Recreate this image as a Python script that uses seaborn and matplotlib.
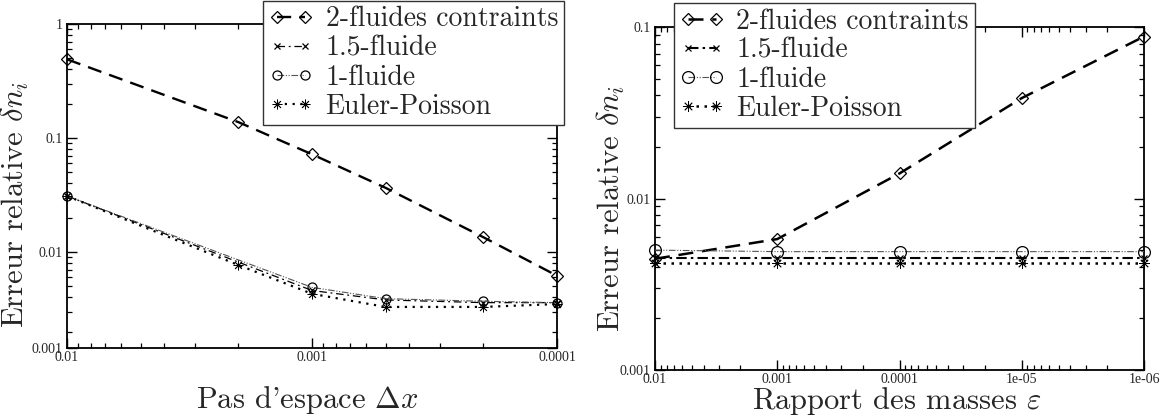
import matplotlib
matplotlib.use("Agg")
import matplotlib.pyplot as plt
import seaborn as sns
import pandas as pd
from matplotlib.ticker import FixedLocator, NullFormatter, LogLocator

# ---------------- data ----------------
labels = ["2-fluides contraints", "1.5-fluide", "1-fluide", "Euler-Poisson"]

# left panel : error vs space step
dx_2f = [0.01, 0.002, 0.001, 0.0005, 0.0002, 0.0001]
err_dx_2f = [0.49, 0.138, 0.072, 0.0365, 0.0135, 0.0062]
dx_15 = [0.01, 0.001, 0.0005, 0.0002, 0.0001]
err_dx_15 = [0.031, 0.0046, 0.0038, 0.0036, 0.0036]
dx_1 = [0.01, 0.001, 0.0005, 0.0002, 0.0001]
err_dx_1 = [0.031, 0.0049, 0.0039, 0.0037, 0.0036]
dx_ep = [0.01, 0.002, 0.001, 0.0005, 0.0002, 0.0001]
err_dx_ep = [0.031, 0.0077, 0.0043, 0.0033, 0.0033, 0.0035]

# right panel : error vs mass ratio
eps = [0.01, 0.001, 0.0001, 1e-05, 1e-06]
err_eps_2f = [0.00445, 0.0058, 0.014, 0.0385, 0.088]
err_eps_15 = [0.0045, 0.0045, 0.0045, 0.0045, 0.0045]
err_eps_1 = [0.0050, 0.0049, 0.0049, 0.0049, 0.0049]
err_eps_ep = [0.0042, 0.0042, 0.0042, 0.0042, 0.0042]

# ticks
left_xticks = [0.01, 0.001, 0.0001]
left_xticklabels = ["0.01", "0.001", "0.0001"]
left_yticks = [0.00144, 0.01, 0.1, 1]
left_yticklabels = ["0.001", "0.01", "0.1", "1"]
right_xticks = [0.01, 0.001, 0.0001, 1e-05, 1e-06]
right_xticklabels = ["0.01", "0.001", "0.0001", "1e-05", "1e-06"]
right_yticks = [0.001, 0.01, 0.1]
right_yticklabels = ["0.001", "0.01", "0.1"]

# ---------------- style ----------------
sns.set_style("ticks")
plt.rcParams["mathtext.fontset"] = "cm"
plt.rcParams["font.family"] = ["cmr10", "DejaVu Serif"]
plt.rcParams["axes.unicode_minus"] = False

LABEL_FS = 22
LEG_FS = 20
TICK_FS = 10
tickfont = dict(family=["Liberation Serif", "DejaVu Serif"], size=TICK_FS)

fig = plt.figure(figsize=(11.75, 4.2), dpi=100)
W, H = 1175, 420
axL = fig.add_axes([67 / W, 1 - 348 / H, 490 / W, 324 / H])
axR = fig.add_axes([655 / W, 1 - 370 / H, 489 / W, 343 / H])

star = (8, 2, 0)


def draw(ax, x, y, label, marker, ms, ls, lw, color="black", mew=0.9):
    df = pd.DataFrame({"x": x, "y": y})
    sns.lineplot(data=df, x="x", y="y", ax=ax, label=label, color=color,
                 linestyle=ls, linewidth=lw, marker=marker, markersize=ms,
                 markerfacecolor="none", markeredgecolor="black",
                 markeredgewidth=mew, estimator=None, sort=False,
                 clip_on=False, zorder=3)


for ax in (axL, axR):
    ax.set_xscale("log")
    ax.set_yscale("log")

# left panel
draw(axL, dx_2f, err_dx_2f, labels[0], "D", 6, (0, (6, 3.5)), 1.7)
draw(axL, dx_15, err_dx_15, labels[1], "x", 4.5, (0, (6, 3, 1.5, 3)), 0.9)
draw(axL, dx_1, err_dx_1, labels[2], "o", 6.5, (0, (6, 1.5, 1, 1.5, 1, 1.5)), 0.8, color="#555555")
draw(axL, dx_ep, err_dx_ep, labels[3], star, 7, (0, (1, 2.5)), 1.6, mew=0.6)

# right panel
draw(axR, eps, err_eps_2f, labels[0], "D", 6.5, (0, (6, 3.5)), 1.8)
draw(axR, eps, err_eps_15, labels[1], "x", 5, (0, (5, 2, 1.2, 2)), 1.5)
draw(axR, eps, err_eps_1, labels[2], "o", 8.5, (0, (6, 1.5, 1, 1.5, 1, 1.5)), 0.8, color="#555555")
draw(axR, eps, err_eps_ep, labels[3], star, 7.5, (0, (1, 2.2)), 1.8, mew=0.6)

axL.set_xlim(0.01, 0.0001)
axL.set_ylim(0.00144, 1)
axR.set_xlim(0.01, 1e-06)
axR.set_ylim(0.001, 0.1)

for ax, xt, xtl, yt, ytl in ((axL, left_xticks, left_xticklabels, left_yticks, left_yticklabels),
                             (axR, right_xticks, right_xticklabels, right_yticks, right_yticklabels)):
    ax.xaxis.set_major_locator(FixedLocator(xt))
    ax.set_xticklabels(xtl, fontdict=tickfont)
    ax.yaxis.set_major_locator(FixedLocator(yt))
    ax.set_yticklabels(ytl, fontdict=tickfont)
    ax.xaxis.set_minor_locator(LogLocator(base=10, subs=range(2, 10), numticks=20))
    ax.yaxis.set_minor_locator(LogLocator(base=10, subs=range(2, 10), numticks=20))
    ax.xaxis.set_minor_formatter(NullFormatter())
    ax.yaxis.set_minor_formatter(NullFormatter())
    ax.tick_params(which="both", direction="in", top=True, right=True, color="black")
    ax.tick_params(which="major", length=7, width=1.0)
    ax.tick_params(which="minor", length=3.5, width=0.9)
    ax.tick_params(axis="x", which="major", pad=2)
    ax.tick_params(axis="y", which="major", pad=3)
    for s in ax.spines.values():
        s.set_linewidth(1.3)
        s.set_color("black")
    ax.grid(False)

axL.set_xlabel(r"Pas d'espace $\Delta x$", fontsize=LABEL_FS)
axL.set_ylabel(r"Erreur relative $\delta n_i$", fontsize=LABEL_FS)
axR.set_xlabel(r"Rapport des masses $\varepsilon$", fontsize=LABEL_FS)
axR.set_ylabel(r"Erreur relative $\delta n_i$", fontsize=LABEL_FS)
axL.xaxis.set_label_coords(0.49, -0.11)
axR.xaxis.set_label_coords(0.495, -0.045)
axL.yaxis.set_label_coords(-0.073, 0.444)
axR.yaxis.set_label_coords(-0.057, 0.472)

leg_kw = dict(loc="upper left", bbox_transform=fig.transFigure, borderaxespad=0,
              fontsize=LEG_FS, numpoints=2, handlelength=1.6, handletextpad=0.45,
              labelspacing=0.1, borderpad=0.2, fancybox=False, framealpha=1,
              edgecolor="#333333")
for ax, anchor in ((axL, (263 / W, 1 - 0.5 / H)), (axR, (674 / W, 1 - 3 / H))):
    h, l = ax.get_legend_handles_labels()
    leg = ax.legend(h, l, bbox_to_anchor=anchor, **leg_kw)
    leg.get_frame().set_linewidth(1.0)
    leg.set_zorder(10)

fig.savefig("out.png", dpi=100)
